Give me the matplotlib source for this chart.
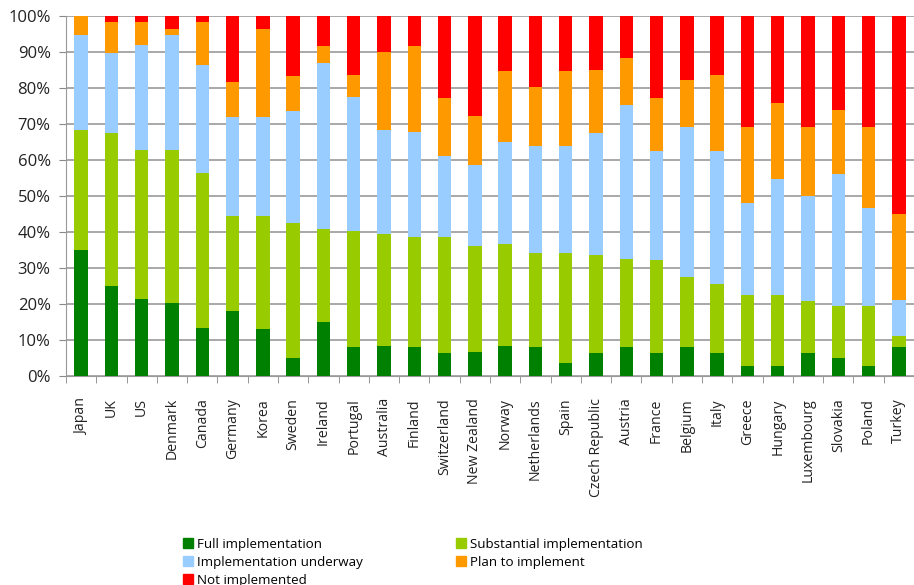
import numpy as np
import matplotlib.pyplot as plt
from matplotlib.patches import Patch

countries = ["Japan", "UK", "US", "Denmark", "Canada", "Germany", "Korea", "Sweden",
             "Ireland", "Portugal", "Australia", "Finland", "Switzerland", "New Zealand",
             "Norway", "Netherlands", "Spain", "Czech Republic", "Austria", "France",
             "Belgium", "Italy", "Greece", "Hungary", "Luxembourg", "Slovakia", "Poland",
             "Turkey"]

# shares in percent
full = [35.0, 25.0, 21.3, 20.2, 13.2, 18.1, 13.0, 4.9, 15.0, 8.0, 8.4, 8.0, 6.3, 6.7,
        8.4, 8.0, 3.5, 6.3, 8.0, 6.3, 8.0, 6.3, 2.9, 2.9, 6.3, 4.9, 2.9, 8.0]
substantial = [33.3, 42.4, 41.4, 42.5, 43.3, 26.3, 31.4, 37.7, 25.9, 32.2, 31.1, 30.5,
               32.2, 29.4, 28.3, 26.3, 30.8, 27.3, 24.6, 25.9, 19.4, 19.3, 19.6, 19.6,
               14.5, 14.6, 16.6, 3.2]
underway = [26.5, 22.1, 29.3, 32.1, 30.0, 27.6, 27.6, 31.1, 46.0, 37.2, 28.7, 29.3,
            22.7, 22.4, 28.3, 29.7, 29.7, 33.8, 42.8, 30.4, 41.8, 37.0, 25.6, 32.2,
            29.1, 36.7, 27.3, 10.0]
plan = [5.2, 8.6, 6.2, 1.7, 11.7, 9.7, 24.5, 9.6, 4.8, 6.3, 21.7, 23.9, 15.9, 13.7,
        19.7, 16.2, 20.7, 17.7, 12.8, 14.5, 13.1, 21.1, 21.1, 21.1, 19.3, 17.8, 22.4,
        23.8]
not_impl = [0.0, 1.8, 1.8, 3.5, 1.8, 18.3, 3.5, 16.7, 8.3, 16.3, 10.1, 8.3, 22.9, 27.8,
            15.3, 19.8, 15.3, 14.9, 11.8, 22.9, 17.7, 16.3, 30.8, 24.2, 30.8, 26.0,
            30.8, 55.0]

series = [("Full implementation", full, "#008000"),
          ("Substantial implementation", substantial, "#99CC00"),
          ("Implementation underway", underway, "#99CCFF"),
          ("Plan to implement", plan, "#FF9900"),
          ("Not implemented", not_impl, "#FF0000")]

plt.rcParams['font.family'] = ['Open Sans', 'DejaVu Sans']

fig = plt.figure(figsize=(9.14, 5.85), dpi=100)
ax = fig.add_axes([66 / 914, 1 - 376 / 585, 848 / 914, 360 / 585])

x = np.arange(len(countries))
tot = np.array(full) + np.array(substantial) + np.array(underway) + np.array(plan) + np.array(not_impl)
bottom = np.zeros(len(countries))
handles = {}
for name, vals, col in series:
    v = np.array(vals) / tot * 100
    ax.bar(x, v, 0.44, bottom=bottom, color=col, zorder=3)
    bottom += v
    handles[name] = Patch(color=col, label=name)

ax.set_xlim(-0.5, len(countries) - 0.5)
ax.set_ylim(0, 100)
ax.set_yticks(np.arange(0, 101, 10))
ax.set_yticklabels(["{}%".format(t) for t in range(0, 101, 10)], fontsize=12, color="#222222")
ax.yaxis.grid(True, color="#9a9a9a", linewidth=1.2, zorder=0)

ax.set_xticks(x)
ax.set_xticklabels(countries, rotation=90, fontsize=10.2, color="#222222")
ax.set_xticks(np.arange(-0.5, len(countries), 1), minor=True)
ax.tick_params(axis="x", which="major", length=0, pad=16)
ax.tick_params(axis="x", which="minor", length=5, color="#888888")
ax.tick_params(axis="y", length=5, color="#888888", pad=6)

for s in ["top", "right"]:
    ax.spines[s].set_visible(False)
ax.spines["left"].set_color("#999999")
ax.spines["bottom"].set_color("#999999")

order = ["Full implementation", "Implementation underway", "Not implemented",
         "Substantial implementation", "Plan to implement"]
fig.legend([handles[n] for n in order], order, ncol=2, frameon=False,
           loc="upper left", bbox_to_anchor=(176 / 914, 1 - 531 / 585),
           fontsize=9.6, handlelength=0.75, handleheight=0.75, handletextpad=0.3,
           labelspacing=0.38, columnspacing=7.0, borderpad=0)

fig.savefig("out.png")
